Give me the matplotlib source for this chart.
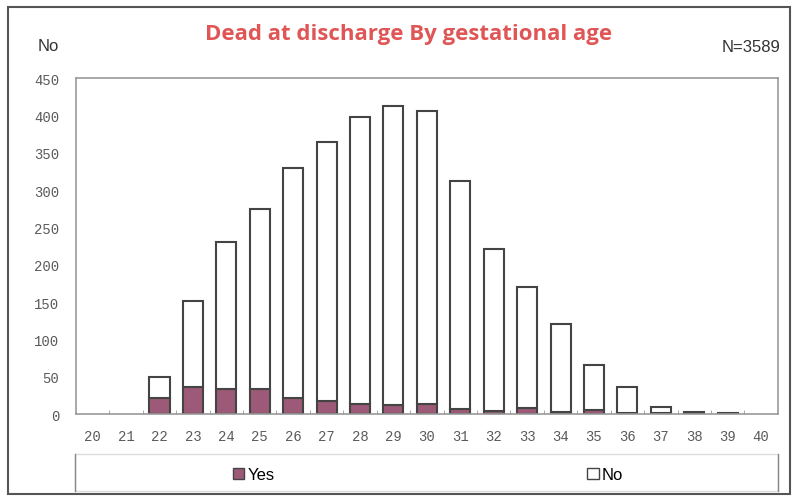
import matplotlib.pyplot as plt
from matplotlib.patches import Rectangle, Patch
from matplotlib.lines import Line2D

# Gestational age (weeks) and counts
weeks = list(range(20, 41))
dead_yes = [0, 0, 22, 36, 33, 33, 21, 17, 14, 12, 14, 7, 4, 8, 3, 6, 1, 2, 0, 0, 0]
dead_no = [0, 0, 27, 116, 198, 242, 309, 347, 384, 401, 392, 305, 217, 162, 118, 59, 35, 8, 3, 1, 0]
y_ticks = [0, 50, 100, 150, 200, 250, 300, 350, 400, 450]

yes_color = '#9c5a78'
edge_color = '#444444'

fig = plt.figure(figsize=(7.93, 5.02), dpi=100)
ax = fig.add_axes([0.0958, 0.1733, 0.885, 0.6693])

x = list(range(len(weeks)))
# no outline for empty weeks
yes_lw = [1.5 if v > 0 else 0 for v in dead_yes]
no_lw = [1.5 if v > 0 else 0 for v in dead_no]
ax.bar(x, dead_yes, width=0.6, color=yes_color, edgecolor=edge_color, linewidth=yes_lw, label='Yes')
ax.bar(x, dead_no, width=0.6, bottom=dead_yes, color='white', edgecolor=edge_color, linewidth=no_lw, label='No')

ax.set_xlim(-0.5, len(weeks) - 0.5)
ax.set_ylim(0, 450)
ax.set_xticks(x)
ax.set_xticklabels([str(w) for w in weeks])
ax.set_yticks(y_ticks)
ax.set_xticks([i + 0.5 for i in x[:-1]], minor=True)
ax.tick_params(axis='x', which='major', length=0, pad=11)
ax.tick_params(axis='x', which='minor', length=3, direction='in', color='#999999')
ax.tick_params(axis='y', length=0, pad=12)
for lab in ax.get_xticklabels() + ax.get_yticklabels():
    lab.set_family('Liberation Mono')
    lab.set_fontsize(10)
    lab.set_color('#5a5a5a')
for sp in ax.spines.values():
    sp.set_color('#999999')
    sp.set_linewidth(1.2)

# Titles / annotations
fig.text(0.515, 0.932, 'Dead at discharge By gestational age', ha='center', va='center',
         fontsize=16, fontweight='bold', color='#e05656', family='Open Sans')
fig.text(0.061, 0.908, 'No', ha='center', va='center', fontsize=12, color='#333333',
         family='Liberation Sans')
fig.text(0.984, 0.906, 'N=3589', ha='right', va='center', fontsize=12, color='#333333',
         family='Liberation Sans')

# Legend box at the bottom
fig.patches.append(Rectangle((0.0945, 0.02), 0.886, 0.074, transform=fig.transFigure,
                             fill=False, edgecolor='#dddddd', linewidth=1))
fig.lines.append(Line2D([0.0945, 0.0945], [0.02, 0.094], transform=fig.transFigure, color='#888888', lw=1))
fig.lines.append(Line2D([0.9805, 0.9805], [0.02, 0.094], transform=fig.transFigure, color='#888888', lw=1))

leg_font = {'family': 'Liberation Sans', 'size': 12}
fig.legend(handles=[Patch(facecolor=yes_color, edgecolor=edge_color, label='Yes')],
           loc='center', bbox_to_anchor=(0.32, 0.052), frameon=False, prop=leg_font,
           handlelength=0.7, handleheight=0.7, handletextpad=0.2)
fig.legend(handles=[Patch(facecolor='white', edgecolor=edge_color, label='No')],
           loc='center', bbox_to_anchor=(0.763, 0.052), frameon=False, prop=leg_font,
           handlelength=0.7, handleheight=0.7, handletextpad=0.2)

# Outer frame
fig.patches.append(Rectangle((0.010, 0.014), 0.986, 0.970, transform=fig.transFigure,
                             fill=False, edgecolor='#555555', linewidth=1.5))

fig.savefig('out.png', dpi=100)
